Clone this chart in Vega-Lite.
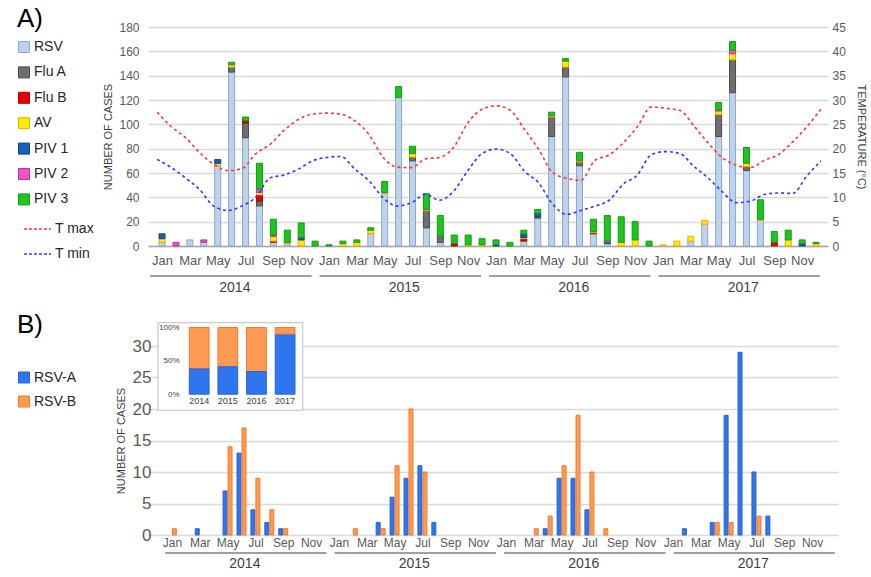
{
  "$schema": "https://vega.github.io/schema/vega-lite/v6.json",
  "padding": {"left": 17, "top": 6, "right": 0, "bottom": 0},
  "spacing": 16,
  "resolve": {"scale": {"fill": "independent", "stroke": "independent", "color": "independent"}, "legend": {"fill": "independent", "stroke": "independent", "color": "independent"}},
  "config": {
    "font": "Liberation Sans",
    "view": {"stroke": null},
    "axis": {"labelColor": "#595959", "titleColor": "#404040", "titleFontWeight": "normal", "gridColor": "#d9d9d9", "gridWidth": 1.3, "ticks": false, "domain": false, "labelFont": "Liberation Sans", "titleFont": "Liberation Sans"},
    "legend": {"labelFont": "Liberation Sans", "titleFont": "Liberation Sans", "labelColor": "#262626", "titleColor": "#000000"}
  },
  "datasets": {
    "a": [
      {"m":0,"v":"RSV","n":3},{"m":0,"v":"AV","n":3},{"m":0,"v":"PIV 1","n":4},
      {"m":1,"v":"PIV 2","n":3},
      {"m":2,"v":"RSV","n":5},
      {"m":3,"v":"RSV","n":3},{"m":3,"v":"PIV 2","n":2},
      {"m":4,"v":"RSV","n":66},{"m":4,"v":"AV","n":2},{"m":4,"v":"PIV 1","n":3},
      {"m":5,"v":"RSV","n":143},{"m":5,"v":"Flu A","n":4},{"m":5,"v":"AV","n":2},{"m":5,"v":"PIV 3","n":2},
      {"m":6,"v":"RSV","n":89},{"m":6,"v":"Flu A","n":12},{"m":6,"v":"Flu B","n":2},{"m":6,"v":"PIV 3","n":3},
      {"m":7,"v":"RSV","n":33},{"m":7,"v":"Flu A","n":4},{"m":7,"v":"Flu B","n":5},{"m":7,"v":"AV","n":2},{"m":7,"v":"PIV 2","n":3},{"m":7,"v":"PIV 3","n":21},
      {"m":8,"v":"RSV","n":3},{"m":8,"v":"Flu B","n":1},{"m":8,"v":"AV","n":4},{"m":8,"v":"PIV 2","n":1},{"m":8,"v":"PIV 3","n":13},
      {"m":9,"v":"RSV","n":2},{"m":9,"v":"AV","n":1},{"m":9,"v":"PIV 3","n":10},
      {"m":10,"v":"AV","n":5},{"m":10,"v":"PIV 1","n":2},{"m":10,"v":"PIV 3","n":12},
      {"m":11,"v":"PIV 3","n":4},
      {"m":12,"v":"PIV 3","n":1},
      {"m":13,"v":"AV","n":2},{"m":13,"v":"PIV 3","n":2},
      {"m":14,"v":"AV","n":3},{"m":14,"v":"PIV 3","n":2},
      {"m":15,"v":"RSV","n":10},{"m":15,"v":"AV","n":3},{"m":15,"v":"PIV 3","n":2},
      {"m":16,"v":"RSV","n":43},{"m":16,"v":"AV","n":1},{"m":16,"v":"PIV 3","n":9},
      {"m":17,"v":"RSV","n":122},{"m":17,"v":"PIV 3","n":9},
      {"m":18,"v":"RSV","n":70},{"m":18,"v":"Flu A","n":3},{"m":18,"v":"AV","n":3},{"m":18,"v":"PIV 3","n":6},
      {"m":19,"v":"RSV","n":15},{"m":19,"v":"Flu A","n":14},{"m":19,"v":"AV","n":1},{"m":19,"v":"PIV 3","n":13},
      {"m":20,"v":"RSV","n":3},{"m":20,"v":"Flu A","n":5},{"m":20,"v":"PIV 3","n":17},
      {"m":21,"v":"Flu B","n":2},{"m":21,"v":"PIV 3","n":7},
      {"m":22,"v":"AV","n":1},{"m":22,"v":"PIV 3","n":8},
      {"m":23,"v":"AV","n":1},{"m":23,"v":"PIV 3","n":5},
      {"m":24,"v":"PIV 1","n":1},{"m":24,"v":"PIV 3","n":4},
      {"m":25,"v":"PIV 3","n":3},
      {"m":26,"v":"RSV","n":4},{"m":26,"v":"Flu B","n":2},{"m":26,"v":"AV","n":1},{"m":26,"v":"PIV 1","n":3},{"m":26,"v":"PIV 3","n":3},
      {"m":27,"v":"RSV","n":23},{"m":27,"v":"Flu A","n":1},{"m":27,"v":"PIV 1","n":3},{"m":27,"v":"PIV 3","n":3},
      {"m":28,"v":"RSV","n":90},{"m":28,"v":"Flu A","n":16},{"m":28,"v":"AV","n":1},{"m":28,"v":"PIV 3","n":3},
      {"m":29,"v":"RSV","n":139},{"m":29,"v":"Flu A","n":8},{"m":29,"v":"AV","n":5},{"m":29,"v":"PIV 3","n":2},
      {"m":30,"v":"RSV","n":66},{"m":30,"v":"Flu A","n":3},{"m":30,"v":"AV","n":1},{"m":30,"v":"PIV 3","n":7},
      {"m":31,"v":"RSV","n":10},{"m":31,"v":"Flu B","n":1},{"m":31,"v":"AV","n":1},{"m":31,"v":"PIV 3","n":10},
      {"m":32,"v":"RSV","n":2},{"m":32,"v":"PIV 1","n":1},{"m":32,"v":"PIV 2","n":1},{"m":32,"v":"PIV 3","n":21},
      {"m":33,"v":"AV","n":3},{"m":33,"v":"PIV 3","n":21},
      {"m":34,"v":"AV","n":5},{"m":34,"v":"PIV 3","n":15},
      {"m":35,"v":"PIV 3","n":4},
      {"m":36,"v":"AV","n":1},
      {"m":37,"v":"AV","n":4},
      {"m":38,"v":"RSV","n":4},{"m":38,"v":"AV","n":4},
      {"m":39,"v":"RSV","n":18},{"m":39,"v":"AV","n":3},
      {"m":40,"v":"RSV","n":90},{"m":40,"v":"Flu A","n":18},{"m":40,"v":"AV","n":3},{"m":40,"v":"PIV 2","n":1},{"m":40,"v":"PIV 3","n":6},
      {"m":41,"v":"RSV","n":126},{"m":41,"v":"Flu A","n":27},{"m":41,"v":"AV","n":5},{"m":41,"v":"PIV 2","n":3},{"m":41,"v":"PIV 3","n":7},
      {"m":42,"v":"RSV","n":62},{"m":42,"v":"Flu A","n":3},{"m":42,"v":"AV","n":3},{"m":42,"v":"PIV 3","n":13},
      {"m":43,"v":"RSV","n":21},{"m":43,"v":"AV","n":1},{"m":43,"v":"PIV 3","n":16},
      {"m":44,"v":"Flu B","n":3},{"m":44,"v":"PIV 3","n":9},
      {"m":45,"v":"AV","n":5},{"m":45,"v":"PIV 3","n":8},
      {"m":46,"v":"PIV 1","n":2},{"m":46,"v":"PIV 3","n":3},
      {"m":47,"v":"AV","n":2},{"m":47,"v":"PIV 3","n":1}
    ],
    "t": [
      {"m":0,"year":2014,"T max":27.5,"T min":17.8},{"m":1,"year":2014,"T max":24.5,"T min":16.1},{"m":2,"year":2014,"T max":22.3,"T min":14.0},{"m":3,"year":2014,"T max":19.2,"T min":11.6},
      {"m":4,"year":2014,"T max":16.8,"T min":8.2},{"m":5,"year":2014,"T max":15.5,"T min":7.3},{"m":6,"year":2014,"T max":15.9,"T min":8.2},{"m":7,"year":2014,"T max":19.0,"T min":10.1},
      {"m":8,"year":2014,"T max":20.9,"T min":14.0},{"m":9,"year":2014,"T max":23.8,"T min":14.6},{"m":10,"year":2014,"T max":26.0,"T min":15.8},{"m":11,"year":2014,"T max":27.1,"T min":17.5},
      {"m":12,"year":2015,"T max":27.3,"T min":18.2},{"m":13,"year":2015,"T max":27.1,"T min":18.4},{"m":14,"year":2015,"T max":25.7,"T min":15.8},{"m":15,"year":2015,"T max":22.9,"T min":13.4},
      {"m":16,"year":2015,"T max":18.2,"T min":9.9},{"m":17,"year":2015,"T max":16.2,"T min":8.2},{"m":18,"year":2015,"T max":16.1,"T min":8.9},{"m":19,"year":2015,"T max":17.9,"T min":10.6},
      {"m":20,"year":2015,"T max":18.2,"T min":9.4},{"m":21,"year":2015,"T max":20.3,"T min":11.3},{"m":22,"year":2015,"T max":25.3,"T min":15.5},{"m":23,"year":2015,"T max":28.1,"T min":19.0},
      {"m":24,"year":2016,"T max":28.8,"T min":19.9},{"m":25,"year":2016,"T max":27.9,"T min":19.0},{"m":26,"year":2016,"T max":24.0,"T min":15.4},{"m":27,"year":2016,"T max":19.9,"T min":13.0},
      {"m":28,"year":2016,"T max":15.1,"T min":8.6},{"m":29,"year":2016,"T max":13.9,"T min":6.5},{"m":30,"year":2016,"T max":13.5,"T min":7.3},{"m":31,"year":2016,"T max":17.6,"T min":8.2},
      {"m":32,"year":2016,"T max":18.7,"T min":9.4},{"m":33,"year":2016,"T max":21.2,"T min":12.7},{"m":34,"year":2016,"T max":24.5,"T min":14.6},{"m":35,"year":2016,"T max":28.6,"T min":18.8},
      {"m":36,"year":2017,"T max":28.3,"T min":19.4},{"m":37,"year":2017,"T max":27.9,"T min":19.0},{"m":38,"year":2017,"T max":24.7,"T min":16.4},{"m":39,"year":2017,"T max":21.2,"T min":14.0},
      {"m":40,"year":2017,"T max":18.2,"T min":11.2},{"m":41,"year":2017,"T max":16.6,"T min":8.9},{"m":42,"year":2017,"T max":16.1,"T min":9.2},{"m":43,"year":2017,"T max":17.6,"T min":10.6},
      {"m":44,"year":2017,"T max":18.8,"T min":10.9},{"m":45,"year":2017,"T max":21.4,"T min":10.8},{"m":46,"year":2017,"T max":24.5,"T min":14.4},{"m":47,"year":2017,"T max":28.1,"T min":17.5}
    ],
    "b": [
      {"m":0,"year":2014,"s":"RSV-B","n":1},{"m":2,"year":2014,"s":"RSV-A","n":1},
      {"m":4,"year":2014,"s":"RSV-A","n":7},{"m":4,"year":2014,"s":"RSV-B","n":14},
      {"m":5,"year":2014,"s":"RSV-A","n":13},{"m":5,"year":2014,"s":"RSV-B","n":17},
      {"m":6,"year":2014,"s":"RSV-A","n":4},{"m":6,"year":2014,"s":"RSV-B","n":9},
      {"m":7,"year":2014,"s":"RSV-A","n":2},{"m":7,"year":2014,"s":"RSV-B","n":4},
      {"m":8,"year":2014,"s":"RSV-A","n":1},{"m":8,"year":2014,"s":"RSV-B","n":1},
      {"m":13,"year":2015,"s":"RSV-B","n":1},
      {"m":15,"year":2015,"s":"RSV-A","n":2},{"m":15,"year":2015,"s":"RSV-B","n":1},
      {"m":16,"year":2015,"s":"RSV-A","n":6},{"m":16,"year":2015,"s":"RSV-B","n":11},
      {"m":17,"year":2015,"s":"RSV-A","n":9},{"m":17,"year":2015,"s":"RSV-B","n":20},
      {"m":18,"year":2015,"s":"RSV-A","n":11},{"m":18,"year":2015,"s":"RSV-B","n":10},
      {"m":19,"year":2015,"s":"RSV-A","n":2},
      {"m":26,"year":2016,"s":"RSV-B","n":1},
      {"m":27,"year":2016,"s":"RSV-A","n":1},{"m":27,"year":2016,"s":"RSV-B","n":3},
      {"m":28,"year":2016,"s":"RSV-A","n":9},{"m":28,"year":2016,"s":"RSV-B","n":11},
      {"m":29,"year":2016,"s":"RSV-A","n":9},{"m":29,"year":2016,"s":"RSV-B","n":19},
      {"m":30,"year":2016,"s":"RSV-A","n":4},{"m":30,"year":2016,"s":"RSV-B","n":10},
      {"m":31,"year":2016,"s":"RSV-B","n":1},
      {"m":37,"year":2017,"s":"RSV-A","n":1},
      {"m":39,"year":2017,"s":"RSV-A","n":2},{"m":39,"year":2017,"s":"RSV-B","n":2},
      {"m":40,"year":2017,"s":"RSV-A","n":19},{"m":40,"year":2017,"s":"RSV-B","n":2},
      {"m":41,"year":2017,"s":"RSV-A","n":29},
      {"m":42,"year":2017,"s":"RSV-A","n":10},{"m":42,"year":2017,"s":"RSV-B","n":3},
      {"m":43,"year":2017,"s":"RSV-A","n":3}
    ]
  },
  "vconcat": [
    {
      "width": 680,
      "height": 219,
      "layer": [
        {
          "data": {"name": "a"},
          "transform": [{"calculate": "indexof(['RSV','Flu A','Flu B','AV','PIV 1','PIV 2','PIV 3'], datum.v)", "as": "k"}],
          "mark": {"type": "bar", "size": 6, "strokeWidth": 1},
          "encoding": {
            "x": {"field": "m", "type": "quantitative", "scale": {"domain": [-0.65, 47.5], "nice": false, "zero": false},
              "axis": {"values": [0,2,4,6,8,10,12,14,16,18,20,22,24,26,28,30,32,34,36,38,40,42,44,46],
                "labelExpr": "timeFormat(datetime(2014, datum.value % 12, 1), '%b')",
                "title": null, "grid": false, "domain": true, "domainColor": "#a6a6a6", "domainWidth": 1.3, "orient": "bottom",
                "labelFontSize": 13, "labelPadding": 8, "labelFlush": false, "labelOverlap": false}},
            "y": {"field": "n", "type": "quantitative", "stack": "zero", "scale": {"domain": [0, 180], "nice": false},
              "axis": {"values": [0,20,40,60,80,100,120,140,160,180], "title": "NUMBER OF CASES", "titleFontSize": 11, "orient": "left",
                "labelFontSize": 12, "labelPadding": 9, "titlePadding": 5, "grid": true}},
            "fill": {"field": "v", "type": "nominal",
              "scale": {"domain": ["RSV","Flu A","Flu B","AV","PIV 1","PIV 2","PIV 3"],
                "range": ["#bdd3ec","#6f6f6f","#e60000","#ffee00","#1560b8","#f050c8","#1fc41f"]},
              "legend": {"title": "A)", "orient": "none", "legendX": -131, "legendY": -21, "titleFontSize": 26, "titleFontWeight": "normal",
                "titlePadding": 8, "symbolType": "square", "symbolSize": 121, "symbolStrokeWidth": 1, "labelFontSize": 14,
                "labelOffset": 3, "rowPadding": 9.4, "padding": 0}},
            "stroke": {"field": "v", "type": "nominal",
              "scale": {"domain": ["RSV","Flu A","Flu B","AV","PIV 1","PIV 2","PIV 3"],
                "range": ["#8aa7cc","#4a4a4a","#b30000","#f0a800","#0b3f85","#c0309a","#139a13"]},
              "legend": {"title": "A)", "orient": "none", "legendX": -131, "legendY": -21, "titleFontSize": 26, "titleFontWeight": "normal",
                "titlePadding": 8, "symbolType": "square", "symbolSize": 121, "symbolStrokeWidth": 1, "labelFontSize": 14,
                "labelOffset": 3, "rowPadding": 9.4, "padding": 0}},
            "order": {"field": "k", "type": "quantitative", "sort": "ascending"}
          }
        },
        {
          "data": {"name": "t"},
          "transform": [{"aggregate": [{"op": "min", "field": "m", "as": "m0"}, {"op": "max", "field": "m", "as": "m1"}], "groupby": ["year"]}],
          "mark": {"type": "rule", "color": "#7f7f7f", "strokeWidth": 1.5, "xOffset": -7, "x2Offset": -1},
          "encoding": {
            "x": {"field": "m0", "type": "quantitative", "axis": null, "scale": {"domain": [-0.65, 47.5], "nice": false, "zero": false}},
            "x2": {"field": "m1"},
            "y": {"datum": -24.6, "type": "quantitative", "axis": null, "scale": {"domain": [0, 180], "nice": false}}
          }
        },
        {
          "data": {"name": "t"},
          "mark": {"type": "text", "dy": 41.5, "fontSize": 14, "color": "#404040", "baseline": "middle"},
          "encoding": {
            "x": {"aggregate": "mean", "field": "m", "type": "quantitative", "axis": null, "scale": {"domain": [-0.65, 47.5], "nice": false, "zero": false}},
            "y": {"datum": 0, "type": "quantitative", "axis": null, "scale": {"domain": [0, 180], "nice": false}},
            "text": {"field": "year", "type": "nominal"}
          }
        },
        {
          "data": {"name": "t"},
          "transform": [{"fold": ["T max", "T min"], "as": ["s", "temp"]}],
          "mark": {"type": "line", "strokeDash": [3, 3], "strokeWidth": 1.6, "interpolate": "monotone"},
          "encoding": {
            "x": {"field": "m", "type": "quantitative", "axis": null, "scale": {"domain": [-0.65, 47.5], "nice": false, "zero": false}},
            "y": {"field": "temp", "type": "quantitative", "scale": {"domain": [0, 45], "nice": false},
              "axis": {"orient": "right", "values": [0,5,10,15,20,25,30,35,40,45], "title": "TEMPERATURE (°C)", "titleAngle": 90,
                "grid": false, "labelFontSize": 12, "labelPadding": 4, "titlePadding": 10, "titleFontSize": 11}},
            "color": {"field": "s", "type": "nominal", "scale": {"domain": ["T max", "T min"], "range": ["#ff3333", "#3333ff"]},
              "legend": {"title": null, "orient": "none", "legendX": -125, "legendY": 187.5, "symbolType": "stroke", "symbolSize": 729,
                "symbolDash": [3, 2], "symbolStrokeWidth": 1.5, "labelFontSize": 14, "labelOffset": 3, "rowPadding": 3, "padding": 0}}
          }
        }
      ],
      "resolve": {"scale": {"x": "independent", "y": "independent"}, "axis": {"x": "independent", "y": "independent"}}
    },
    {
      "width": 690,
      "height": 189,
      "layer": [
        {
          "data": {"name": "b"},
          "transform": [{"filter": "datum.s == 'RSV-A'"}],
          "mark": {"type": "bar", "size": 4, "xOffset": -2.5, "strokeWidth": 1},
          "encoding": {
            "x": {"field": "m", "type": "quantitative", "scale": {"domain": [-1.358, 47.5], "nice": false, "zero": false},
              "axis": {"values": [0,2,4,6,8,10,12,14,16,18,20,22,24,26,28,30,32,34,36,38,40,42,44,46],
                "labelExpr": "timeFormat(datetime(2014, datum.value % 12, 1), '%b')",
                "title": null, "grid": false, "domain": false, "orient": "bottom",
                "labelFontSize": 12, "labelPadding": 2, "labelFlush": false, "labelOverlap": false}},
            "y": {"field": "n", "type": "quantitative", "scale": {"domain": [0, 30], "nice": false},
              "axis": {"values": [0,5,10,15,20,25,30], "title": "NUMBER OF CASES", "titleFontSize": 11, "orient": "left", "offset": -10,
                "labelFontSize": 17, "labelPadding": 7, "titlePadding": 6, "grid": true}},
            "fill": {"field": "s", "type": "nominal", "scale": {"domain": ["RSV-A", "RSV-B"], "range": ["#2e75f0", "#ff9a52"]},
              "legend": {"title": "B)", "orient": "none", "legendX": -131, "legendY": -34.5, "titleFontSize": 26, "titleFontWeight": "normal",
                "titlePadding": 33, "symbolType": "square", "symbolSize": 121, "symbolStrokeWidth": 1, "labelFontSize": 14,
                "labelOffset": 3, "rowPadding": 8, "padding": 0}},
            "stroke": {"field": "s", "type": "nominal", "scale": {"domain": ["RSV-A", "RSV-B"], "range": ["#2a62d8", "#f47a2a"]},
              "legend": {"title": "B)", "orient": "none", "legendX": -131, "legendY": -34.5, "titleFontSize": 26, "titleFontWeight": "normal",
                "titlePadding": 33, "symbolType": "square", "symbolSize": 121, "symbolStrokeWidth": 1, "labelFontSize": 14,
                "labelOffset": 3, "rowPadding": 8, "padding": 0}}
          }
        },
        {
          "data": {"name": "b"},
          "transform": [{"filter": "datum.s == 'RSV-B'"}],
          "mark": {"type": "bar", "size": 4, "xOffset": 2.5, "strokeWidth": 1},
          "encoding": {
            "x": {"field": "m", "type": "quantitative", "axis": null, "scale": {"domain": [-1.358, 47.5], "nice": false, "zero": false}},
            "y": {"field": "n", "type": "quantitative", "axis": null, "scale": {"domain": [0, 30], "nice": false}},
            "fill": {"field": "s", "type": "nominal", "legend": null},
            "stroke": {"field": "s", "type": "nominal", "legend": null}
          }
        },
        {
          "data": {"name": "t"},
          "transform": [{"aggregate": [{"op": "min", "field": "m", "as": "m0"}, {"op": "max", "field": "m", "as": "m1"}], "groupby": ["year"]}],
          "mark": {"type": "rule", "color": "#7f7f7f", "strokeWidth": 1.5, "xOffset": -2, "x2Offset": 4},
          "encoding": {
            "x": {"field": "m0", "type": "quantitative", "axis": null, "scale": {"domain": [-1.358, 47.5], "nice": false, "zero": false}},
            "x2": {"field": "m1"},
            "y": {"datum": -2.85, "type": "quantitative", "axis": null, "scale": {"domain": [0, 30], "nice": false}}
          }
        },
        {
          "data": {"name": "t"},
          "mark": {"type": "text", "dy": 29, "fontSize": 14, "color": "#404040", "baseline": "middle"},
          "encoding": {
            "x": {"aggregate": "mean", "field": "m", "type": "quantitative", "axis": null, "scale": {"domain": [-1.358, 47.5], "nice": false, "zero": false}},
            "y": {"datum": 0, "type": "quantitative", "axis": null, "scale": {"domain": [0, 30], "nice": false}},
            "text": {"field": "year", "type": "nominal"}
          }
        },
        {
          "data": {"values": [{}]},
          "mark": {"type": "rect", "fill": "#ffffff", "stroke": "#bfbfbf", "strokeWidth": 1},
          "encoding": {
            "x": {"datum": -0.65, "type": "quantitative", "axis": null, "scale": {"domain": [-1.358, 47.5], "nice": false, "zero": false}},
            "x2": {"datum": 9.6},
            "y": {"datum": 19.8, "type": "quantitative", "axis": null, "scale": {"domain": [0, 30], "nice": false}},
            "y2": {"datum": 33.7}
          }
        },
        {
          "data": {"name": "b"},
          "mark": {"type": "bar", "strokeWidth": 1},
          "encoding": {
            "x": {"field": "year", "type": "ordinal", "scale": {"range": [41.3, 147], "paddingInner": 0.31, "paddingOuter": 0},
              "axis": {"orient": "bottom", "offset": -140.7, "title": null, "labelAngle": 0, "labelFontSize": 9, "labelPadding": 2,
                "domain": false, "ticks": false, "grid": false, "labelColor": "#404040", "zindex": 2}},
            "y": {"aggregate": "sum", "field": "n", "type": "quantitative", "stack": "normalize", "scale": {"range": [48.2, -18.5]},
              "axis": {"orient": "left", "offset": -33, "values": [0, 0.5, 1], "format": ".0%", "title": null, "labelFontSize": 8,
                "labelPadding": 2, "grid": false, "labelColor": "#404040", "zindex": 2}},
            "fill": {"field": "s", "type": "nominal", "legend": null},
            "stroke": {"field": "s", "type": "nominal", "legend": null},
            "order": {"field": "s", "sort": "ascending"}
          }
        }
      ],
      "resolve": {"scale": {"x": "independent", "y": "independent"}, "axis": {"x": "independent", "y": "independent"}}
    }
  ]
}
